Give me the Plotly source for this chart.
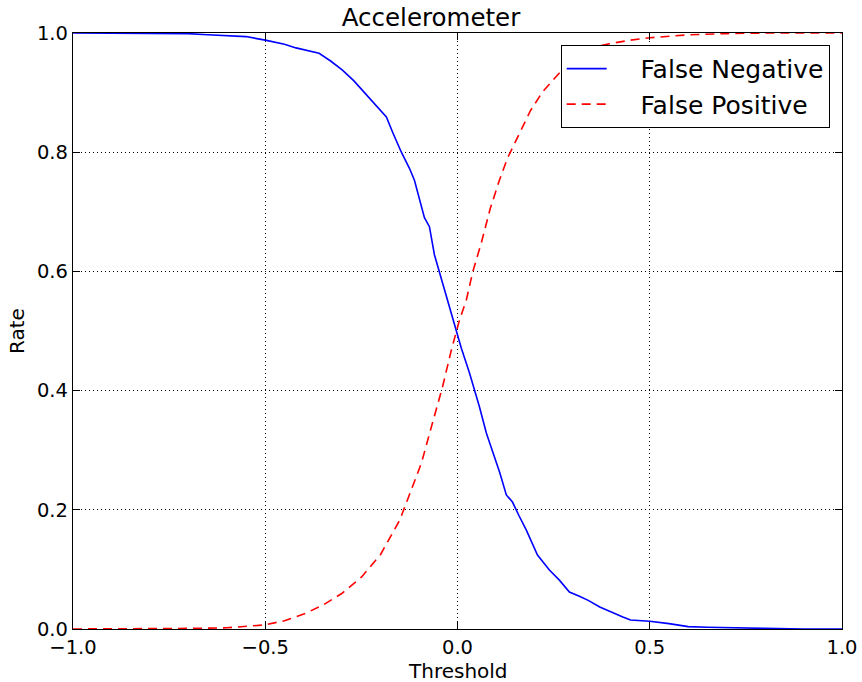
import plotly.graph_objects as go

fn_x = [-1.0, -0.9, -0.8, -0.7, -0.65, -0.6, -0.55, -0.5, -0.45, -0.42, -0.39, -0.36, -0.33, -0.30,
        -0.27, -0.255, -0.24, -0.224, -0.203, -0.185, -0.169, -0.146, -0.125, -0.112, -0.086, -0.073,
        -0.060, -0.039, -0.016, -0.003, 0.010, 0.031, 0.057, 0.075, 0.091, 0.110, 0.127, 0.143, 0.160,
        0.179, 0.208, 0.239, 0.265, 0.291, 0.317, 0.34, 0.37, 0.40, 0.43, 0.45, 0.50, 0.55, 0.60, 0.65,
        0.70, 0.80, 0.90, 1.0]
fn_y = [1.0, 1.0, 1.0, 0.999, 0.997, 0.996, 0.994, 0.988, 0.981, 0.975, 0.970, 0.966, 0.953, 0.938,
        0.92, 0.909, 0.898, 0.888, 0.871, 0.859, 0.834, 0.800, 0.773, 0.753, 0.690, 0.675,
        0.628, 0.580, 0.527, 0.497, 0.471, 0.430, 0.373, 0.329, 0.300, 0.262, 0.225, 0.213, 0.19,
        0.166, 0.124, 0.099, 0.082, 0.062, 0.055, 0.048, 0.037, 0.028, 0.02, 0.015, 0.013, 0.009, 0.004, 0.003,
        0.002, 0.001, 0.0, 0.0]

fp_x = [-1.0, -0.8, -0.7, -0.6, -0.55, -0.5, -0.45, -0.4, -0.35, -0.3, -0.25, -0.2, -0.15, -0.13,
        -0.094, -0.065, -0.039, -0.016, 0.005, 0.023, 0.04, 0.062, 0.085, 0.109, 0.13, 0.16, 0.19,
        0.221, 0.265, 0.317, 0.36, 0.395, 0.45, 0.5, 0.6, 0.7, 0.8, 1.0]
fp_y = [0.0, 0.0, 0.001, 0.002, 0.004, 0.007, 0.014, 0.025, 0.04, 0.06, 0.087, 0.125, 0.183, 0.216,
        0.278, 0.346, 0.406, 0.468, 0.518, 0.552, 0.6, 0.648, 0.705, 0.753, 0.79, 0.83, 0.87,
        0.901, 0.933, 0.966, 0.977, 0.982, 0.988, 0.992, 0.997, 0.999, 1.0, 1.0]

x_ticks = [-1.0, -0.5, 0.0, 0.5, 1.0]
y_ticks = [0.0, 0.2, 0.4, 0.6, 0.8, 1.0]
series_names = ["False Negative", "False Positive"]
x_title = "Threshold"
y_title = "Rate"

FONT = "DejaVu Sans"
PAD = "\u00a0" * 3 + "\u2009"

fig = go.Figure()
fig.add_trace(go.Scatter(x=fn_x, y=fn_y, mode="lines", name=PAD + series_names[0], legendgroup="fn",
                         line=dict(color="#0000ff", width=1.6)))
fig.add_trace(go.Scatter(x=fp_x, y=fp_y, mode="lines", name=PAD + series_names[1], legendgroup="fp",
                         line=dict(color="#ff0000", width=1.6, dash="9px,6px")))

axis_common = dict(showline=True, linecolor="black", linewidth=1.3, mirror="ticks",
                   ticks="inside", ticklen=7, tickcolor="black", tickwidth=1,
                   showgrid=True, gridcolor="black", griddash="1px,3px", gridwidth=1,
                   zeroline=False, tickfont=dict(family=FONT, size=19.5, color="black"),
                   tickformat=".1f", automargin=False)

fig.update_layout(
    width=862, height=682,
    margin=dict(l=73, r=20, t=33, b=53),
    paper_bgcolor="white", plot_bgcolor="white",
    title=dict(text="Accelerometer", x=0.5, xanchor="center", y=0.975, yanchor="middle",
               font=dict(family=FONT, size=24.5, color="black")),
    xaxis=dict(range=[-1, 1], tickvals=x_ticks, **axis_common),
    yaxis=dict(range=[0, 1], tickvals=y_ticks, **axis_common),
    legend=dict(x=0.984, y=0.980, xanchor="right", yanchor="top",
                bgcolor="white", bordercolor="black", borderwidth=1,
                font=dict(family=FONT, size=25, color="black"),
                itemwidth=40, tracegroupgap=0),
    showlegend=True,
    annotations=[
        dict(text=x_title, xref="paper", yref="paper", x=0.5, y=0, xanchor="center", yanchor="middle",
             yshift=-42, showarrow=False, font=dict(family=FONT, size=20, color="black")),
        dict(text=y_title, xref="paper", yref="paper", x=0, y=0.5, xanchor="center", yanchor="middle",
             xshift=-56, textangle=-90, showarrow=False, font=dict(family=FONT, size=20, color="black")),
    ],
)

fig.write_html("out.html")
